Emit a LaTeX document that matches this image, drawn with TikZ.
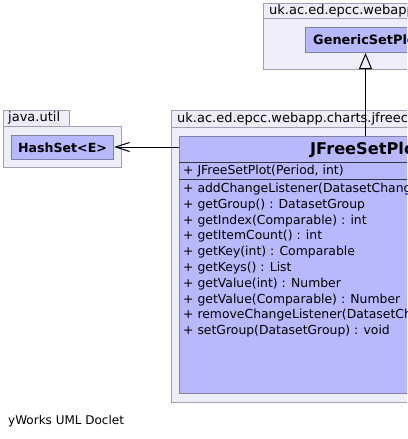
\documentclass[tikz,border=0pt]{standalone}
\usepackage{fontspec}
\setmainfont{DejaVu Sans}
\usetikzlibrary{arrows.meta}
\definecolor{pkgfill}{RGB}{238,238,250}
\definecolor{pkgdraw}{RGB}{160,160,176}
\definecolor{clsfill}{RGB}{184,184,252}
\definecolor{clsdraw}{RGB}{130,130,160}
\tikzset{
  pkg/.style={draw=pkgdraw, fill=pkgfill, line width=1pt},
  cls/.style={draw=clsdraw, fill=clsfill, line width=1pt},
  box/.style={rectangle, inner sep=0pt, anchor=north west},
  pkgtxt/.style={anchor=west, inner sep=0pt, font=\fontsize{13}{15}\selectfont},
  mem/.style={anchor=west, inner sep=0pt, font=\fontsize{12.4}{14}\selectfont},
  gen/.style={-{Triangle[open,length=16pt,width=13pt]}, line width=1pt},
  dep/.style={-{Straight Barb[length=14pt,width=9pt]}, line width=1pt},
}
\begin{document}
\begin{tikzpicture}[x=1pt,y=-1pt]
\useasboundingbox (0,0) rectangle (407,439);
\clip (0,0) rectangle (407,439);
\fill[white] (0,0) rectangle (407,439);
% top package
\node[box, pkg, minimum width=260pt, minimum height=15pt] (p1tab) at (263,3) {};
\node[box, pkg, minimum width=260pt, minimum height=51pt] (p1) at (263,18) {};
\node[pkgtxt] (p1name) at (269,11) {uk.ac.ed.epcc.webapp.charts};
\node[box, cls, minimum width=200pt, minimum height=25pt] (gsp) at (305,27) {};
\node[mem, font=\fontsize{12.9}{15}\bfseries] (gspname) at (313,40) {GenericSetPlot};
% java.util package
\node[box, pkg, minimum width=66pt, minimum height=16pt] (p2tab) at (3,110) {};
\node[box, pkg, minimum width=118pt, minimum height=41pt] (p2) at (3,126) {};
\node[pkgtxt] (p2name) at (8,118) {java.util};
\node[box, cls, minimum width=102pt, minimum height=24pt] (hs) at (11,135) {};
\node[font=\fontsize{12.6}{15}\bfseries, inner sep=0pt] (hsname) at (hs.center) {HashSet<E>};
% right package
\node[box, pkg, minimum width=300pt, minimum height=17pt] (p3tab) at (171,110) {};
\node[box, pkg, minimum width=300pt, minimum height=275pt] (p3) at (171,127) {};
\node[pkgtxt] (p3name) at (177,118.5) {uk.ac.ed.epcc.webapp.charts.jfreechart};
\node[box, cls, minimum width=300pt, minimum height=257pt] (jf) at (179,136) {};
\draw[clsdraw!40!black, line width=1pt] (179,162) -- (479,162);
\draw[clsdraw!40!black, line width=1pt] (179,179) -- (479,179);
\node[mem, font=\fontsize{16.2}{18}\bfseries] (jfname) at (310,149.5) {JFreeSetPlot};
\node[mem] (c1) at (183,171) {+ JFreeSetPlot(Period, int)};
\foreach \t [count=\i from 0] in {
  addChangeListener(DatasetChangeListener) : void,
  getGroup() : DatasetGroup,
  getIndex(Comparable) : int,
  getItemCount() : int,
  getKey(int) : Comparable,
  getKeys() : List,
  getValue(int) : Number,
  getValue(Comparable) : Number,
  removeChangeListener(DatasetChangeListener) : void,
  setGroup(DatasetGroup) : void}
  \node[mem] (m\i) at (183,189+15.8*\i) {+ \t};
% connectors
\coordinate (gx) at (365.5,0);
\draw[gen] (jf.north -| gx) -- (gsp.south -| gx);
\coordinate (hy) at (0,147);
\draw[dep] (jf.west |- hy) -- (hs.east |- hy);
% footer
\node[anchor=west, inner sep=0pt, font=\fontsize{12}{14}\selectfont] (foot) at (8,421) {yWorks UML Doclet};
\end{tikzpicture}
\end{document}
